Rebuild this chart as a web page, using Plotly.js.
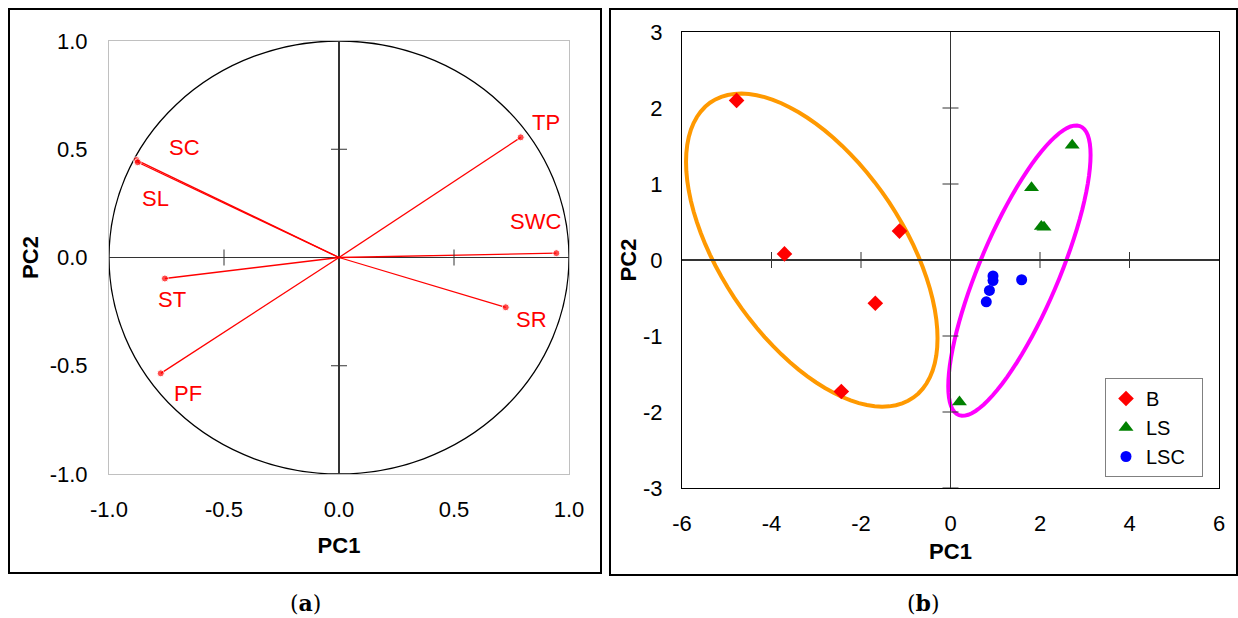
<!DOCTYPE html>
<html>
<head>
<meta charset="utf-8">
<script src="https://cdn.plot.ly/plotly-3.0.1.min.js"></script>
<style>
  html, body { margin: 0; padding: 0; background: #fff; }
  #chart { width: 1238px; height: 618px; }
</style>
</head>
<body>
<div id="chart"></div>
<script>
// (a) loadings on PC1 / PC2
let variables = ["TP", "SWC", "SR", "SC", "SL", "ST", "PF"];
let loadPC1 = [0.79, 0.945, 0.725, -0.88, -0.875, -0.757, -0.775];
let loadPC2 = [0.555, 0.02, -0.23, 0.45, 0.44, -0.097, -0.535];
let ticksA = [-1, -0.5, 0, 0.5, 1];
let tickTextA = ["-1.0", "-0.5", "0.0", "0.5", "1.0"];

// (b) scores by group
let groups = ["B", "LS", "LSC"];
let scoreX = [
    [-4.78, -3.71, -1.14, -1.68, -2.44],
    [2.72, 1.81, 2.03, 2.09, 0.20],
    [0.95, 0.95, 0.87, 0.80, 1.59]
];
let scoreY = [
    [2.10, 0.08, 0.38, -0.57, -1.73],
    [1.51, 0.95, 0.44, 0.43, -1.87],
    [-0.21, -0.27, -0.40, -0.55, -0.26]
];
let ticksBx = [-6, -4, -2, 0, 2, 4, 6];
let tickTextBx = ["-6", "-4", "-2", "0", "2", "4", "6"];
let ticksBy = [-3, -2, -1, 0, 1, 2, 3];
let tickTextBy = ["-3", "-2", "-1", "0", "1", "2", "3"];

// hand drawn group outlines (centre, spread in x, spread in y, covariance)
let outlineB = {cx: -3.1, cy: 0.13, sx: 2.81, sy: 2.06, cov: -3.26};
let outlineL = {cx: 1.54, cy: -0.14, sx: 1.59, sy: 1.91, cov: 2.42};

const FONT = "Liberation Sans, Arial, sans-serif";
const W = 1238, H = 618;

// label offsets in px for the loading names
let labelShift = {
    TP: [25, 15], SWC: [-21, 32], SR: [26, -12], SC: [48, 13],
    SL: [18, -36], ST: [7, -21], PF: [27, -20]
};

let data = [];

for (let i = 0; i < variables.length; i++) {
    data.push({
        x: [0, loadPC1[i]],
        y: [0, loadPC2[i]],
        xaxis: 'x', yaxis: 'y',
        mode: 'lines+markers',
        type: 'scatter',
        line: {color: '#ff0000', width: 1.3},
        marker: {color: '#ff0000', size: [0, 7]},
        showlegend: false,
        hoverinfo: 'skip'
    });
}

let markers = [
    {symbol: 'diamond', color: '#ff0000', size: 12},
    {symbol: 'triangle-up', color: '#008000', size: 13},
    {symbol: 'circle', color: '#0000ff', size: 11}
];
for (let g = 0; g < groups.length; g++) {
    data.push({
        x: scoreX[g],
        y: scoreY[g],
        name: groups[g] + '  ',
        xaxis: 'x2', yaxis: 'y2',
        mode: 'markers',
        type: 'scatter',
        marker: markers[g]
    });
}

function ellipsePath(e) {
    let uy = e.cov / e.sx;
    let vy = Math.sqrt(e.sy * e.sy - uy * uy);
    let p = '';
    let n = 90;
    for (let k = 0; k <= n; k++) {
        let t = 2 * Math.PI * k / n;
        let x = e.cx + e.sx * Math.cos(t);
        let y = e.cy + uy * Math.cos(t) + vy * Math.sin(t);
        p += (k == 0 ? 'M' : 'L') + x.toFixed(4) + ',' + y.toFixed(4);
    }
    return p + 'Z';
}

function tickMarks(xr, yr, xs, ys, color) {
    let out = [];
    xs.forEach(v => out.push({
        type: 'line', xref: xr, yref: yr, x0: v, x1: v,
        ysizemode: 'pixel', yanchor: 0, y0: -8, y1: 8,
        line: {color: color, width: 1}
    }));
    ys.forEach(v => out.push({
        type: 'line', xref: xr, yref: yr, y0: v, y1: v,
        xsizemode: 'pixel', xanchor: 0, x0: -8, x1: 8,
        line: {color: color, width: 1}
    }));
    return out;
}

let shapes = [
    // panel frames
    {type: 'rect', xref: 'paper', yref: 'paper',
     x0: 9 / W, x1: 601 / W, y0: 1 - 573 / H, y1: 1 - 9 / H,
     line: {color: '#000', width: 2}},
    {type: 'rect', xref: 'paper', yref: 'paper',
     x0: 610 / W, x1: 1237 / W, y0: 1 - 575 / H, y1: 1 - 9 / H,
     line: {color: '#000', width: 2}},
    // unit circle
    {type: 'circle', xref: 'x', yref: 'y', x0: -1, x1: 1, y0: -1, y1: 1,
     line: {color: '#000', width: 1.3}, layer: 'below'},
    {type: 'path', xref: 'x2', yref: 'y2', path: ellipsePath(outlineB),
     line: {color: '#ff9900', width: 4}, layer: 'below'},
    {type: 'path', xref: 'x2', yref: 'y2', path: ellipsePath(outlineL),
     line: {color: '#ff00ff', width: 4}, layer: 'below'}
].concat(
    tickMarks('x', 'y', [-0.5, 0.5], [-0.5, 0.5], '#333'),
    tickMarks('x2', 'y2', [-4, -2, 0, 2, 4], [-3, -2, -1, 0, 1, 2], '#333')
);

let annotations = variables.map((v, i) => ({
    x: loadPC1[i], y: loadPC2[i], xref: 'x', yref: 'y',
    text: v, showarrow: false,
    xshift: labelShift[v][0], yshift: labelShift[v][1],
    font: {family: FONT, size: 22, color: '#ff0000'}
}));
let captionFont = {family: 'DejaVu Serif, Liberation Serif, serif', size: 22, color: '#000'};
annotations.push(
    {x: 305 / W, y: 1 - 603 / H, xref: 'paper', yref: 'paper', showarrow: false,
     xanchor: 'center', yanchor: 'middle', text: '(<b>a</b>)', font: captionFont},
    {x: 923 / W, y: 1 - 603 / H, xref: 'paper', yref: 'paper', showarrow: false,
     xanchor: 'center', yanchor: 'middle', text: '(<b>b</b>)', font: captionFont}
);

let tickFont = {family: FONT, size: 22, color: '#000'};
let titleFont = {family: FONT, size: 22, color: '#000', weight: 'bold'};

let axisBase = {
    showgrid: false,
    zeroline: true,
    zerolinewidth: 1.3,
    showline: true,
    mirror: true,
    ticks: '',
    tickmode: 'array',
    tickfont: tickFont,
    fixedrange: true
};

let layout = {
    width: W,
    height: H,
    margin: {l: 0, r: 0, t: 0, b: 0},
    paper_bgcolor: '#fff',
    plot_bgcolor: '#fff',
    font: {family: FONT},
    xaxis: Object.assign({}, axisBase, {
        domain: [109 / W, 569 / W],
        range: [-1, 1],
        tickvals: ticksA,
        ticktext: tickTextA,
        linecolor: '#c0c0c0',
        zerolinecolor: '#333',
        ticklabelstandoff: 16,
        title: {text: '<b>PC1</b>', font: titleFont, standoff: 16},
        anchor: 'y'
    }),
    yaxis: Object.assign({}, axisBase, {
        domain: [1 - 474 / H, 1 - 41 / H],
        range: [-1, 1],
        tickvals: ticksA,
        ticktext: tickTextA,
        linecolor: '#c0c0c0',
        zerolinecolor: '#333',
        ticklabelstandoff: 16,
        title: {text: '<b>PC2</b>', font: titleFont, standoff: 4},
        anchor: 'x'
    }),
    xaxis2: Object.assign({}, axisBase, {
        domain: [682 / W, 1219 / W],
        range: [-6, 6],
        tickvals: ticksBx,
        ticktext: tickTextBx,
        linecolor: '#000',
        zerolinecolor: '#333',
        ticklabelstandoff: 16,
        title: {text: '<b>PC1</b>', font: titleFont, standoff: 8},
        anchor: 'y2'
    }),
    yaxis2: Object.assign({}, axisBase, {
        domain: [1 - 488 / H, 1 - 32 / H],
        range: [-3, 3],
        tickvals: ticksBy,
        ticktext: tickTextBy,
        linecolor: '#000',
        zerolinecolor: '#333',
        ticklabelstandoff: 14,
        title: {text: '<b>PC2</b>', font: titleFont, standoff: 0},
        anchor: 'x2'
    }),
    shapes: shapes,
    annotations: annotations,
    showlegend: true,
    legend: {
        x: 1105 / W, y: 1 - 378 / H,
        xanchor: 'left', yanchor: 'top',
        bgcolor: '#fff',
        bordercolor: '#808080',
        borderwidth: 1,
        font: {family: FONT, size: 20, color: '#000'},
        itemwidth: 30
    },
    hovermode: 'closest'
};

Plotly.newPlot('chart', data, layout, {displayModeBar: false, staticPlot: true});
</script>
</body>
</html>
